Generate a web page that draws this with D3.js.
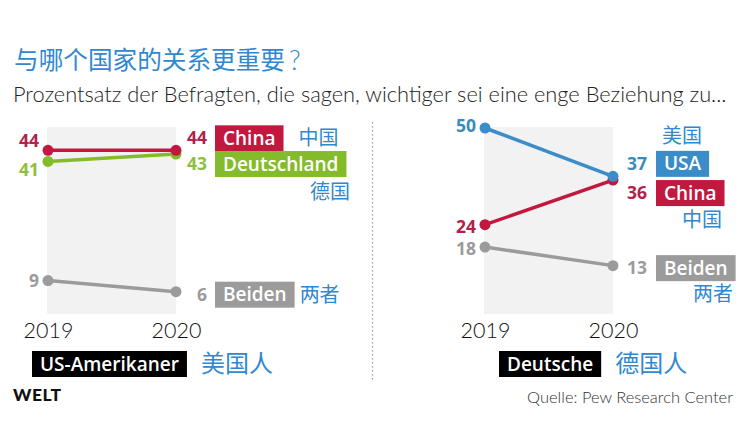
<!DOCTYPE html>
<html><head><meta charset="utf-8">
<script src="https://cdn.jsdelivr.net/npm/d3@7/dist/d3.min.js"></script>
<style>
html,body{margin:0;padding:0;background:#fff;}
svg{display:block;}
text{font-family:Lato,"Noto Sans",sans-serif;}
.b{font-family:"Open Sans","Noto Sans",sans-serif;font-weight:700;}
.bx{font-family:"Open Sans","Noto Sans",sans-serif;font-weight:600;}
.cn{font-family:"Noto Sans CJK SC","Noto Sans",sans-serif;}
</style></head>
<body>
<svg id="chart" width="751" height="440"></svg>
<script>
// ---- data ----
const years = ["2019", "2020"];
const titleText = "与哪个国家的关系更重要";
const titleMark = "？";
const subtitleText = "Prozentsatz der Befragten, die sagen, wichtiger sei eine enge Beziehung zu...";
const sourceText = "Quelle: Pew Research Center";

const usNames = ["China", "Deutschland", "Beiden"];
const usNamesCn = ["中国", "德国", "两者"];
const usValues2019 = [44, 41, 9];
const usValues2020 = [44, 43, 6];
const usGroup = "US-Amerikaner";
const usGroupCn = "美国人";

const deNames = ["USA", "China", "Beiden"];
const deNamesCn = ["美国", "中国", "两者"];
const deValues2019 = [50, 24, 18];
const deValues2020 = [37, 36, 13];
const deGroup = "Deutsche";
const deGroupCn = "德国人";

// ---- style ----
const C = {
  China: "#c2173f", Deutschland: "#84bb2a", Beiden: "#9b9b9b", USA: "#3a8dc9",
  cn: "#2f88d0", band: "#f2f2f3", text: "#222"
};
const labelColor = {China: "#b3204a", Deutschland: "#8cbf3c", Beiden: "#9b9b9b", USA: "#3a8bba"};

const svg = d3.select("#chart");

function fitWidth(sel, base, target) {
  sel.attr("font-size", base);
  const w = sel.node().getComputedTextLength();
  sel.attr("font-size", base * target / w);
}

// title & subtitle
const title = svg.append("text").attr("class", "cn").attr("x", 14).attr("y", 69)
  .attr("fill", C.cn).text(titleText);
fitWidth(title, 24, 271);
svg.append("text").attr("x", 289).attr("y", 70).attr("font-family", "Lato").attr("font-weight", 300)
  .attr("font-size", 27).attr("fill", C.cn).text("?");
const sub = svg.append("text").attr("x", 13).attr("y", 102)
  .attr("font-weight", 300).attr("fill", C.text).text(subtitleText);
fitWidth(sub, 20, 714);

const y = d3.scaleLinear().domain([0, 50]).range([314, 128]);

// layout per panel
const panels = [
  {
    names: usNames, cn: usNamesCn, v19: usValues2019, v20: usValues2020,
    group: usGroup, groupCn: usGroupCn,
    xr: [48, 176], boxX: 215, lab20X: 207, groupBox: [32, 351],
    off19: [-9, 9, 0], off20: [-12, 10, 3],
    cnPos: [{mode: "right", gap: 15}, {mode: "below", alignEnd: 350, dy: 28}, {mode: "right", gap: 5}]
  },
  {
    names: deNames, cn: deNamesCn, v19: deValues2019, v20: deValues2020,
    group: deGroup, groupCn: deGroupCn,
    xr: [485, 613], boxX: 656, lab20X: 647, groupBox: [499, 351],
    off19: [-2, 2, 2], off20: [-12.5, 13, 2.5],
    cnPos: [{mode: "above", startX: 662, dy: -28}, {mode: "below", alignEnd: 722, dy: 27}, {mode: "below", alignEnd: 733, dy: 26}]
  }
];

const boxH = 26;
const pad = 8;

panels.forEach(p => {
  const x = d3.scalePoint().domain(years).range(p.xr);
  const g = svg.append("g");

  // band
  g.append("rect").attr("x", x(years[0]) - 1).attr("y", y(50) - 1)
    .attr("width", x(years[1]) - x(years[0]) + 1).attr("height", y(0) - y(50) + 1)
    .attr("fill", C.band);

  // year axis
  const ax = g.append("g").attr("transform", `translate(0,${320})`)
    .call(d3.axisBottom(x).tickSize(0).tickPadding(0));
  ax.select(".domain").remove();
  ax.selectAll("text").attr("font-family", "Lato").attr("font-weight", 300)
    .attr("font-size", 21.5).attr("fill", "#111").attr("dy", "0.85em");

  const series = p.names.map((n, i) => ({name: n, cn: p.cn[i], vals: [p.v19[i], p.v20[i]], i}));
  const line = d3.line().x((d, j) => x(years[j])).y(d => y(d));

  // lines (draw in reverse so first series on top)
  series.slice().reverse().forEach(s => {
    g.append("path").attr("d", line(s.vals)).attr("fill", "none")
      .attr("stroke", C[s.name]).attr("stroke-width", 3.5);
    s.vals.forEach((v, j) => {
      g.append("circle").attr("cx", x(years[j])).attr("cy", y(v)).attr("r", 5.5).attr("fill", C[s.name]);
    });
  });

  series.forEach(s => {
    const col = labelColor[s.name];
    // 2019 label
    g.append("text").attr("class", "b").attr("x", x(years[0]) - 9).attr("y", y(s.vals[0]) + p.off19[s.i] + 6)
      .attr("text-anchor", "end").attr("font-size", 17.5)
      .attr("fill", col).text(s.vals[0]);
    // 2020 label
    const cy = y(s.vals[1]) + p.off20[s.i];
    g.append("text").attr("class", "b").attr("x", p.lab20X).attr("y", cy + 6)
      .attr("text-anchor", "end").attr("font-size", 17.5)
      .attr("fill", col).text(s.vals[1]);
    // box
    const bt = g.append("text").attr("class", "bx").attr("x", p.boxX + pad).attr("y", cy + 6.5)
      .attr("font-size", 19).attr("fill", "#fff").text(s.name);
    const bw = bt.node().getComputedTextLength() + 2 * pad;
    g.insert("rect", () => bt.node()).attr("x", p.boxX).attr("y", cy - boxH / 2)
      .attr("width", bw).attr("height", boxH).attr("fill", C[s.name]);
    // chinese label
    const pos = p.cnPos[s.i];
    const ct = g.append("text").attr("class", "cn").attr("font-size", 20).attr("fill", C.cn).text(s.cn);
    if (pos.mode === "right") {
      ct.attr("x", p.boxX + bw + pos.gap).attr("y", cy + 7);
    } else if (pos.mode === "below") {
      ct.attr("x", pos.alignEnd).attr("text-anchor", "end").attr("y", cy + pos.dy + 7);
    } else {
      ct.attr("x", pos.startX).attr("y", cy + pos.dy + 7);
    }
  });

  // group label
  const [gx, gy] = p.groupBox;
  const gt = g.append("text").attr("class", "bx").attr("x", gx + pad).attr("y", gy + 19.5)
    .attr("font-size", 19).attr("fill", "#fff").text(p.group);
  const gw = gt.node().getComputedTextLength() + 2 * pad;
  g.insert("rect", () => gt.node()).attr("x", gx).attr("y", gy).attr("width", gw).attr("height", boxH)
    .attr("fill", "#000");
  g.append("text").attr("class", "cn").attr("x", gx + gw + 14).attr("y", gy + 21)
    .attr("font-size", 24).attr("fill", C.cn).text(p.groupCn);
});

// separator
svg.append("line").attr("x1", 372.5).attr("x2", 372.5).attr("y1", 122).attr("y2", 382)
  .attr("stroke", "#999").attr("stroke-width", 1.2).attr("stroke-dasharray", "1.5,2.5");

// logo
const logo = svg.append("text").attr("x", 13).attr("y", 401).attr("font-family", "Lato").attr("font-weight", 900)
  .attr("fill", "#111").attr("letter-spacing", 0.5).text("WELT");
fitWidth(logo, 15, 49);

// source
const src = svg.append("text").attr("x", 733).attr("y", 403).attr("text-anchor", "end")
  .attr("font-weight", 300).attr("fill", "#333").text(sourceText);
fitWidth(src, 15.5, 206);
</script>
</body></html>
